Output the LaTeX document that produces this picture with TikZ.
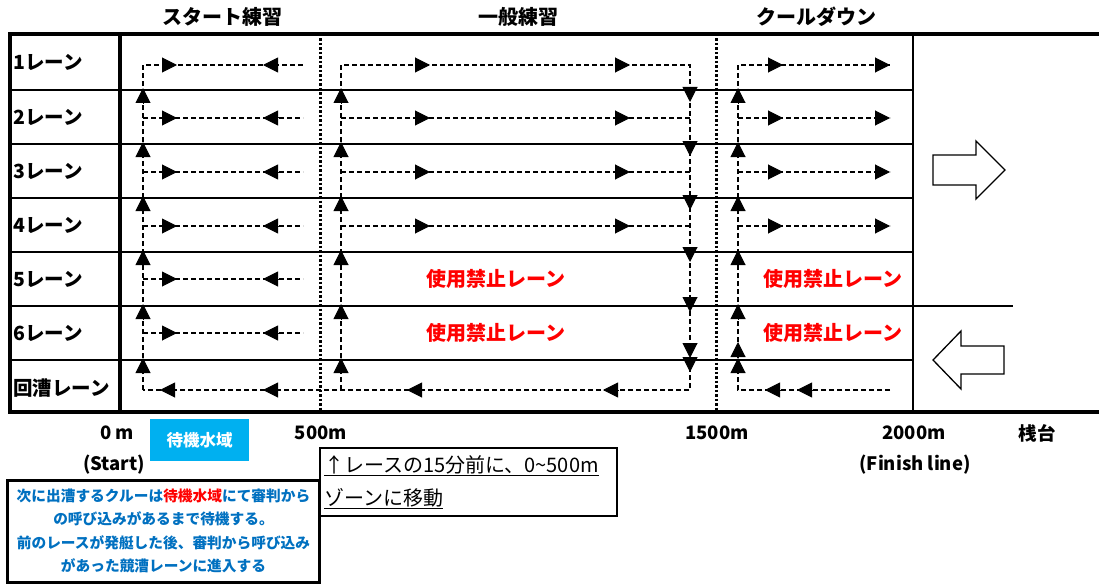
\documentclass[tikz,border=0pt]{standalone}
\usepackage{fontspec}
\setmainfont{Noto Sans CJK JP}
\usetikzlibrary{positioning, arrows.meta}
\definecolor{noteblue}{HTML}{0070C0}
\definecolor{waitcyan}{HTML}{00B0F0}
\tikzset{lane label/.style={anchor=west, inner sep=0pt, font=\fontsize{19.5}{19.5}\selectfont\bfseries},
	zone title/.style={font=\fontsize{20}{20}\selectfont\bfseries},
	dist label/.style={font=\fontsize{18.5}{18.5}\selectfont\bfseries},
	ban text/.style={text=red, font=\fontsize{20}{20}\selectfont\bfseries},
	route/.style={line width=1.3pt, dash pattern=on 5pt off 3pt},
	head/.style={-{Triangle[length=15pt, width=15pt]}, line width=1pt},
	border line/.style={line width=3.5pt},
	lane line/.style={line width=1.8pt},}

\begin{document}
\begin{tikzpicture}[x=1pt, y=-1pt]
			\useasboundingbox (0,0) rectangle (1099,583);
			% Grids
			\foreach \y in {90, 144, 198, 252, 360}
			\draw[lane line] (10,\y) -- (913,\y);
			\draw[lane line] (10,306) -- (1013,306);
			\draw[lane line] (913,34) -- (913,412);
			\draw[line width=3pt, dash pattern=on 2.5pt off 2pt] (320,34) -- (320,412);
			\draw[line width=3pt, dash pattern=on 2.5pt off 2pt] (716,34) -- (716,412);
			\draw[border line] (8,34) -- (1099,34);
			\draw[border line] (8,412) -- (1099,412);
			\draw[border line] (10,34) -- (10,412);
			\draw[border line] (120,34) -- (120,412);
			% Titles and lanes
			\node[zone title] (start title) at (222,17) {スタート練習};
			\node[zone title] (main title) at (518,17) {一般練習};
			\node[zone title] (cool title) at (816,17) {クールダウン};
			\foreach \y/\t [count=\i] in {62/1レーン, 117/2レーン, 171/3レーン, 225/4レーン, 279/5レーン, 333/6レーン, 388/回漕レーン}
			\node[lane label] (lane\i) at (13,\y) {\t};
			% Paths
			\draw[route] (143,390) -- (143,65) -- (303,65);
			\draw[route] (341,390) -- (341,65) -- (690,65) -- (690,390) -- (143,390);
			\draw[route] (890,390) -- (738,390) -- (738,65) -- (890,65);
			\foreach \y in {118, 172, 226, 279, 333}
			\draw[route] (143,\y) -- (303,\y);
			\foreach \y in {118, 172, 226} {
				\draw[route] (341,\y) -- (690,\y);
				\draw[route] (738,\y) -- (890,\y);
			}
			% Arrow heads
			\foreach \y in {65, 118, 172, 226, 279, 333} {
				\draw[head] (162,\y) -- (177,\y);
				\draw[head] (278,\y) -- (263,\y);
			}
			\foreach \y in {65, 118, 172, 226} {
				\draw[head] (415,\y) -- (430,\y);
				\draw[head] (615,\y) -- (630,\y);
				\draw[head] (768,\y) -- (783,\y);
				\draw[head] (875,\y) -- (890,\y);
			}
			\foreach \x in {175, 278, 422, 618, 780, 812}
			\draw[head] (\x,390) -- (\x-15,390);
			\foreach \x in {143, 341, 738}
			\foreach \y in {90, 144, 198, 252, 306, 360}
			\draw[head] (\x,\y+13) -- (\x,\y-2);
			\draw[head] (738,357) -- (738,342);
			\foreach \y in {90, 144, 198, 250, 300, 360}
			\draw[head] (690,\y-3) -- (690,\y+12);
			\draw[head] (690,343) -- (690,358);
			% Closed lanes
			\node[ban text] (ban main5) at (496,279) {使用禁止レーン};
			\node[ban text] (ban main6) at (496,333) {使用禁止レーン};
			\node[ban text] (ban cool5) at (833,279) {使用禁止レーン};
			\node[ban text] (ban cool6) at (833,333) {使用禁止レーン};
			% Big arrows
			\draw[line width=1.3pt] (933,155) -- (976,155) -- (976,141) -- (1005,170) -- (976,199) -- (976,185) -- (933,185) -- cycle;
			\draw[line width=1.3pt] (933,360) -- (961,331) -- (961,346) -- (1004,346) -- (1004,374) -- (961,374) -- (961,389) -- cycle;
			% Distances
			\node[dist label] (d0) at (117,433) {0 m};
			\node[dist label] (d500) at (321,433) {500m};
			\node[dist label] (d1500) at (717,433) {1500m};
			\node[dist label] (d2000) at (914,433) {2000m};
			\node[dist label] (pier) at (1037,433) {桟台};
			\node[dist label] (start) at (114,465) {(Start)};
			\node[dist label] (finish) at (915,465) {(Finish line)};
			% Notes
			\node[fill=waitcyan, text=white, minimum width=99pt, minimum height=42pt, font=\fontsize{16.5}{16.5}\selectfont\bfseries] (wait zone) at (199.5,440) {待機水域};
			\node[draw, line width=2.5pt, minimum width=297pt, minimum height=68pt, text width=289pt, align=left, inner sep=3pt, font=\fontsize{20}{33}\selectfont] (move note) at (468.5,482) {\underline{↑レースの15分前に、0\textasciitilde 500m}\\\underline{ゾーンに移動}};
			\node[draw, line width=3pt, minimum width=309pt, minimum height=102pt, text width=305pt, align=center, text=noteblue, font=\fontsize{14.7}{23.5}\selectfont\bfseries] (call note) at (163.5,531) {次に出漕するクルーは{\color{red}待機水域}にて審判から\\の呼び込みがあるまで待機する。\\前のレースが発艇した後、審判から呼び込み\\があった競漕レーンに進入する};
		\end{tikzpicture}
\end{document}
